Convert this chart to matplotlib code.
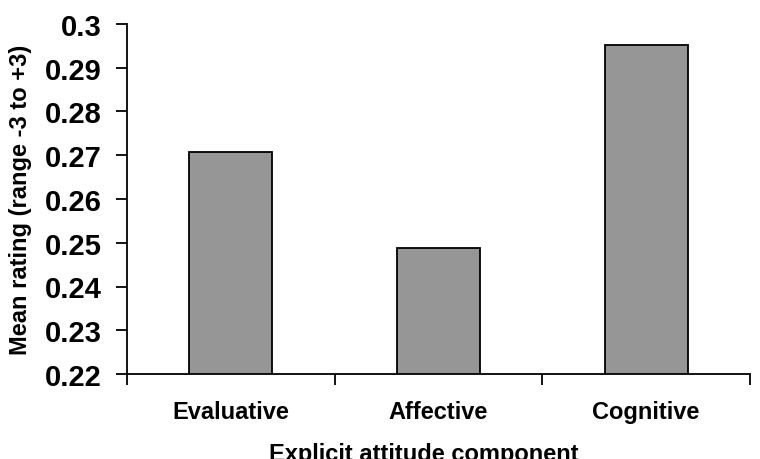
import matplotlib.pyplot as plt
import numpy as np

plt.rcParams['font.family'] = ['Liberation Sans', 'DejaVu Sans']
plt.rcParams['font.weight'] = 'bold'

categories = ['Evaluative', 'Affective', 'Cognitive']
values = [0.2708, 0.2488, 0.2951]
y_ticks = [0.22, 0.23, 0.24, 0.25, 0.26, 0.27, 0.28, 0.29, 0.3]
y_tick_labels = ['0.22', '0.23', '0.24', '0.25', '0.26', '0.27', '0.28', '0.29', '0.3']

fig = plt.figure(figsize=(7.6, 4.6), dpi=100)
ax = fig.add_axes([127 / 760, 85 / 460, 623 / 760, 350 / 460])

x = np.arange(len(categories)) + 0.5
ax.bar(x, values, width=0.4, color='#969696', edgecolor='black', linewidth=1.3)

ax.set_xlim(0, len(categories))
ax.set_ylim(0.22, 0.3)

ax.set_yticks(y_ticks)
ax.set_yticklabels(y_tick_labels, fontsize=21, fontweight='bold')
ax.tick_params(axis='y', length=8, width=1.3, pad=10)

# category boundaries get the ticks, labels sit between them
ax.set_xticks(np.arange(len(categories) + 1))
ax.set_xticklabels([])
ax.tick_params(axis='x', which='major', length=8, width=1.3)
ax.set_xticks(x, minor=True)
ax.set_xticklabels(categories, minor=True, fontsize=17, fontweight='bold')
ax.tick_params(axis='x', which='minor', length=0, pad=19)

for s in ['top', 'right']:
    ax.spines[s].set_visible(False)
for s in ['left', 'bottom']:
    ax.spines[s].set_linewidth(1.3)

ax.set_ylabel('Mean rating (range -3 to +3)', fontsize=17, fontweight='bold')
ax.yaxis.set_label_coords(-0.152, 0.5)
ax.set_xlabel('Explicit attitude component', fontsize=17, fontweight='bold')
ax.xaxis.set_label_coords(0.477, -0.195)
ax.xaxis.label.set_va('top')

fig.savefig('out.png', dpi=100)
